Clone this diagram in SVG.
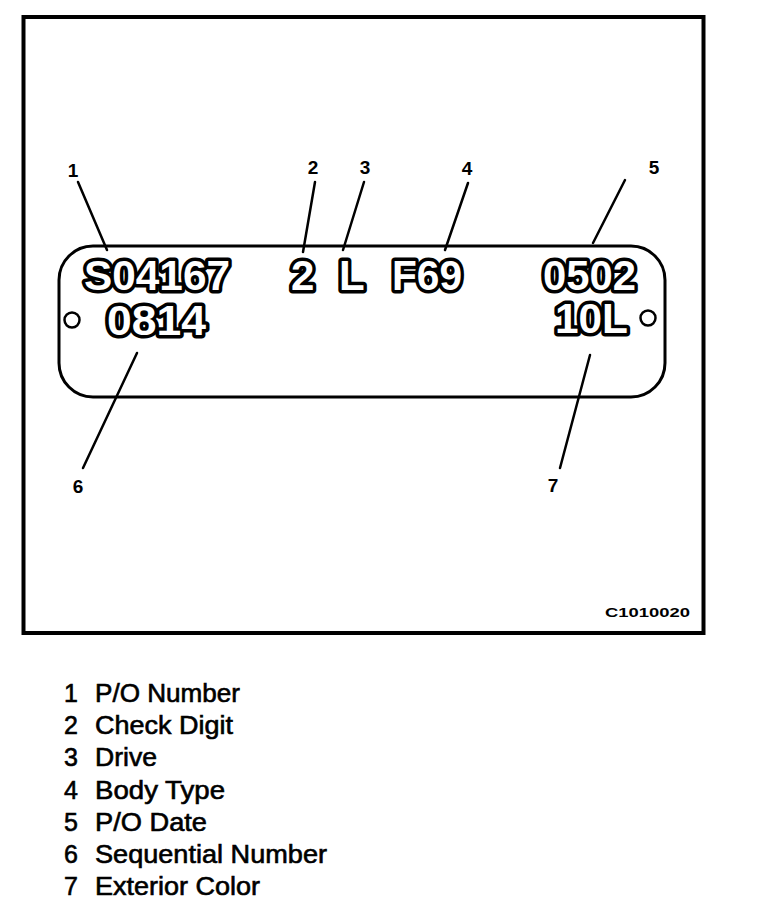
<svg xmlns="http://www.w3.org/2000/svg" width="768" height="922" viewBox="0 0 768 922">
<style>
.frame{fill:none;stroke:#000;stroke-width:4}
.plate{fill:#fff;stroke:#000;stroke-width:3}
.hole{fill:#fff;stroke:#000;stroke-width:2.5}
.code{font-family:"Liberation Sans",Arial,sans-serif;font-size:42px;font-weight:bold;fill:#fff;stroke:#000;stroke-width:7;stroke-linejoin:round;paint-order:stroke}
.num{font-family:"Liberation Sans",Arial,sans-serif;font-size:19px;font-weight:bold;fill:#000;text-anchor:middle}
.lead{stroke:#000;stroke-width:2.5;stroke-linecap:round;fill:none}
.leg{font-family:"Liberation Sans",Arial,sans-serif;font-size:25px;fill:#000;stroke:#000;stroke-width:0.6}
.fig{font-family:"Liberation Sans",Arial,sans-serif;font-size:13px;font-weight:bold;fill:#000}
</style>
<rect width="768" height="922" fill="#fff"/>
<rect class="frame" x="23.5" y="17" width="680" height="616"/>
<g id="plate">
<rect class="plate" x="59" y="246" width="606" height="151" rx="34" ry="34"/>
<circle class="hole" cx="72" cy="320" r="7.5"/>
<circle class="hole" cx="648" cy="318" r="7.5"/>
<text class="code" x="84" y="290" textLength="146" lengthAdjust="spacingAndGlyphs">S04167</text>
<text class="code" x="291" y="290">2</text>
<text class="code" x="339" y="290">L</text>
<text class="code" x="392" y="290" textLength="70" lengthAdjust="spacingAndGlyphs">F69</text>
<text class="code" x="543" y="290" textLength="93" lengthAdjust="spacingAndGlyphs">0502</text>
<text class="code" x="107" y="335" textLength="99" lengthAdjust="spacingAndGlyphs">0814</text>
<text class="code" x="555" y="333" textLength="73" lengthAdjust="spacingAndGlyphs">10L</text>
</g>
<g id="connectors">
<line class="lead" x1="78" y1="182" x2="107" y2="250"/>
<line class="lead" x1="315" y1="182" x2="303" y2="252"/>
<line class="lead" x1="364" y1="182" x2="343" y2="250"/>
<line class="lead" x1="468" y1="183" x2="445" y2="250"/>
<line class="lead" x1="625" y1="180" x2="593" y2="243"/>
<line class="lead" x1="137" y1="353" x2="83" y2="468"/>
<line class="lead" x1="590" y1="355" x2="560" y2="468"/>
</g>
<g id="callouts">
<text class="num" x="73" y="177">1</text>
<text class="num" x="313" y="174">2</text>
<text class="num" x="365" y="174">3</text>
<text class="num" x="467" y="175">4</text>
<text class="num" x="654" y="174">5</text>
<text class="num" x="78" y="493">6</text>
<text class="num" x="553" y="492">7</text>
</g>
<text class="fig" x="605" y="617" textLength="85" lengthAdjust="spacingAndGlyphs">C1010020</text>
<g id="legend">
<text class="leg" x="64" y="702">1</text><text class="leg" x="95" y="702" textLength="145" lengthAdjust="spacingAndGlyphs">P/O Number</text>
<text class="leg" x="64" y="734">2</text><text class="leg" x="95" y="734" textLength="138" lengthAdjust="spacingAndGlyphs">Check Digit</text>
<text class="leg" x="64" y="766">3</text><text class="leg" x="95" y="766" textLength="62" lengthAdjust="spacingAndGlyphs">Drive</text>
<text class="leg" x="64" y="799">4</text><text class="leg" x="95" y="799" textLength="130" lengthAdjust="spacingAndGlyphs">Body Type</text>
<text class="leg" x="64" y="831">5</text><text class="leg" x="95" y="831" textLength="112" lengthAdjust="spacingAndGlyphs">P/O Date</text>
<text class="leg" x="64" y="863">6</text><text class="leg" x="95" y="863" textLength="232" lengthAdjust="spacingAndGlyphs">Sequential Number</text>
<text class="leg" x="64" y="895">7</text><text class="leg" x="95" y="895" textLength="165" lengthAdjust="spacingAndGlyphs">Exterior Color</text>
</g>
</svg>
